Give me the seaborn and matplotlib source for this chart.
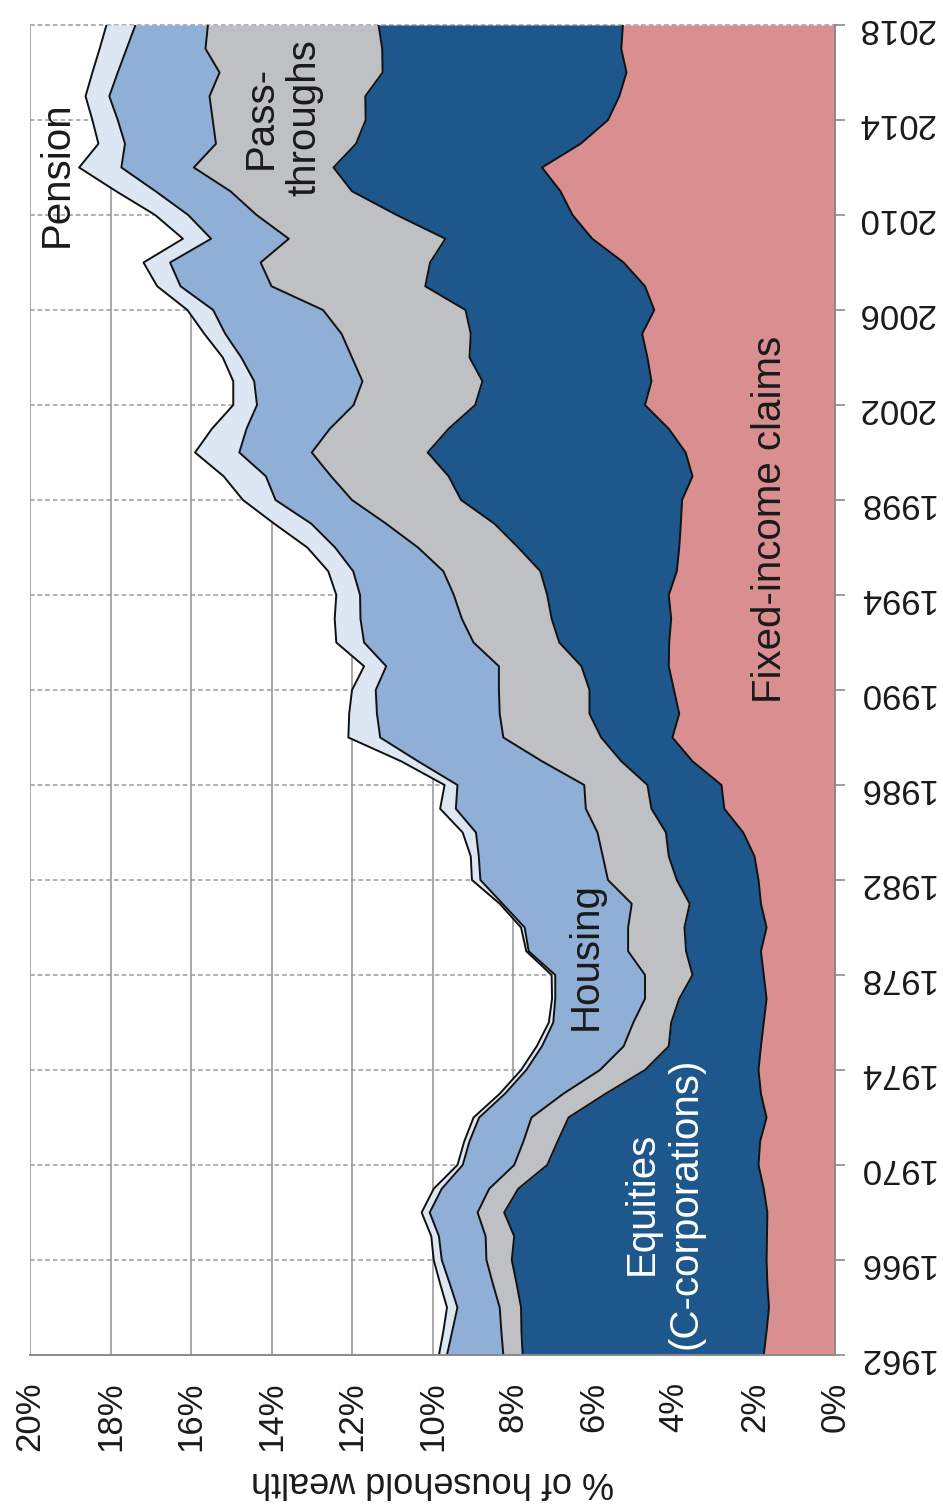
import numpy as np
import pandas as pd
import matplotlib
matplotlib.use("Agg")
import matplotlib.pyplot as plt
import seaborn as sns

# ---------------- data (% of household wealth) ----------------
years = list(range(1962, 2019))

fixed_income = [1.77, 1.70, 1.64, 1.68, 1.70, 1.69, 1.68, 1.77, 1.90, 1.86,
                1.70, 1.84, 1.90, 1.84, 1.77, 1.70, 1.77, 1.84, 1.70, 1.84,
                1.90, 2.00, 2.28, 2.75, 2.82, 3.54, 4.04, 3.87, 4.00, 4.13,
                4.12, 4.07, 4.13, 3.93, 3.87, 3.83, 3.80, 3.54, 3.71, 4.13,
                4.72, 4.56, 4.66, 4.79, 4.49, 4.72, 5.25, 6.03, 6.52, 6.82,
                7.28, 6.32, 5.64, 5.36, 5.18, 5.31, 5.27]
equities = [5.99, 6.09, 6.16, 6.23, 6.33, 6.28, 6.54, 6.10, 5.25, 5.03,
            4.92, 3.86, 2.82, 2.29, 2.30, 2.17, 1.77, 1.86, 2.04, 1.77,
            2.03, 2.13, 1.92, 1.81, 1.84, 1.77, 1.77, 2.23, 2.10, 2.17,
            2.73, 2.97, 3.02, 3.39, 4.00, 4.63, 5.49, 6.06, 6.41, 5.47,
            4.22, 4.20, 4.42, 4.26, 4.69, 5.46, 4.81, 3.65, 4.37, 5.18,
            5.18, 5.58, 6.02, 6.31, 6.06, 5.94, 6.07]
pass_throughs = [0.48, 0.50, 0.53, 0.59, 0.63, 0.71, 0.66, 0.72, 0.82, 0.85,
                 0.92, 1.05, 1.12, 1.12, 0.94, 0.85, 1.18, 1.44, 1.40, 1.44,
                 1.71, 1.64, 1.70, 1.63, 1.57, 1.97, 2.43, 2.23, 2.25, 2.05,
                 2.13, 2.23, 2.32, 2.41, 2.49, 2.69, 2.71, 2.92, 2.88, 2.95,
                 3.02, 2.98, 2.92, 3.21, 3.54, 3.82, 4.21, 3.89, 3.48, 3.02,
                 3.47, 3.48, 3.80, 3.87, 4.05, 4.39, 4.24]
housing = [1.40, 1.22, 1.05, 1.07, 1.11, 1.16, 1.19, 1.18, 1.28, 1.34,
           1.30, 1.45, 1.83, 2.03, 1.99, 2.23, 2.23, 2.47, 2.57, 3.21,
           3.17, 3.08, 3.02, 3.23, 3.15, 3.08, 3.06, 3.05, 3.06, 2.80,
           2.72, 2.52, 2.33, 2.24, 2.06, 1.86, 1.90, 1.62, 1.80, 2.07,
           2.40, 2.69, 2.75, 2.89, 2.73, 2.26, 2.25, 1.93, 1.70, 1.86,
           1.80, 2.26, 2.36, 2.49, 2.53, 1.96, 1.80]
pension = [0.20, 0.22, 0.26, 0.24, 0.20, 0.19, 0.20, 0.20, 0.13, 0.13,
           0.14, 0.13, 0.13, 0.13, 0.11, 0.08, 0.09, 0.06, 0.09, 0.07,
           0.21, 0.20, 0.33, 0.39, 0.32, 0.42, 0.79, 0.69, 0.59, 0.55,
           0.69, 0.64, 0.59, 0.62, 0.69, 0.92, 0.81, 1.05, 1.10, 0.86,
           0.59, 0.52, 0.46, 0.52, 0.64, 0.58, 0.66, 0.70, 0.82, 0.98,
           1.05, 0.66, 0.63, 0.59, 0.63, 0.67, 0.72]

categories = ["Fixed-income claims", "Equities (C-corporations)",
              "Pass-throughs", "Housing", "Pension"]
pct_ticks = list(range(0, 21, 2))
year_ticks = list(range(1962, 2019, 4))

colors = ["#d98f8f", "#1e578c", "#bfc0c4", "#8fafd7", "#dce7f3"]

# ---------------- figure ----------------
sns.set_theme(style="white")
plt.rcParams['font.family'] = ['Liberation Sans', 'DejaVu Sans']

df = pd.DataFrame({categories[0]: fixed_income,
                   categories[1]: equities,
                   categories[2]: pass_throughs,
                   categories[3]: housing,
                   categories[4]: pension}, index=years)
df.index.name = "year"
cum = df.cumsum(axis=1)

fig = plt.figure(figsize=(9.43, 15.08), dpi=100)
ax = fig.add_axes([30 / 943, 153 / 1508, 805 / 943, 1330 / 1508])

lower = np.zeros(len(years))
for col, color in zip(categories, colors):
    upper = cum[col].values
    ax.fill_betweenx(years, lower, upper, color=color, lw=0, zorder=2)
    lower = upper

long = cum.reset_index().melt(id_vars="year", var_name="series", value_name="value")
sns.lineplot(data=long, x="value", y="year", units="series", estimator=None,
             orient="y", sort=False, color="#111111", lw=1.4, legend=False,
             ax=ax, zorder=3)

ax.set_xlim(20, 0)
ax.set_ylim(1962, 2018)

# grid
ax.set_axisbelow(True)
ax.grid(False)
for v in pct_ticks:
    ax.axvline(v, color="#9a9a9a", lw=1.2, zorder=0.5)
for yv in year_ticks:
    ax.axhline(yv, color="#9a9a9a", lw=1.1, ls=(0, (3, 2)), zorder=0.5, clip_on=False)

for side in ["top", "left"]:
    ax.spines[side].set_visible(False)
for side in ["bottom", "right"]:
    ax.spines[side].set_visible(True)
    ax.spines[side].set_color("#8a8a8a")
    ax.spines[side].set_linewidth(1.4)
    ax.spines[side].set_zorder(4)

# ticks
ax.set_xticks(pct_ticks)
ax.set_xticklabels([f"{v}%" for v in pct_ticks], rotation=90, fontsize=25,
                   color="#1a1a1a")
ax.tick_params(axis="x", length=0, pad=19)

ax.yaxis.tick_right()
ax.set_yticks(year_ticks)
ax.set_yticklabels([str(y) for y in year_ticks], rotation=180, fontsize=25,
                   color="#1a1a1a")
ax.tick_params(axis="y", which="major", right=True, left=False, length=7,
               width=1.2, color="#8a8a8a", pad=9, direction="out")

ax.set_ylabel("")
ax.set_xlabel("% of household wealth", fontsize=26, rotation=180,
              color="#1a1a1a", va="center")
ax.xaxis.set_label_coords(0.5, (1355 - 1481) / 1330)

# category labels
ax.text(19.33, 2011.7, "Pension", rotation=90, fontsize=29, ha="center",
        va="center", color="#1a1a1a", zorder=5)
ax.text(13.72, 2014.1, "Pass-\nthroughs", rotation=90, fontsize=29,
        ha="center", va="center", multialignment="center",
        linespacing=1.2, color="#1a1a1a", zorder=5)
ax.text(6.19, 1978.8, "Housing", rotation=90, fontsize=29, ha="center",
        va="center", color="#1a1a1a", zorder=5)
ax.text(4.25, 1968.4, "Equities\n(C-corporations)", rotation=90, fontsize=29,
        ha="center", va="center", multialignment="center",
        linespacing=1.2, color="white", zorder=5)
ax.text(1.61, 1997.2, "Fixed-income claims", rotation=90, fontsize=29,
        ha="center", va="center", color="#1a1a1a", zorder=5)

fig.savefig("out.png", dpi=100)
